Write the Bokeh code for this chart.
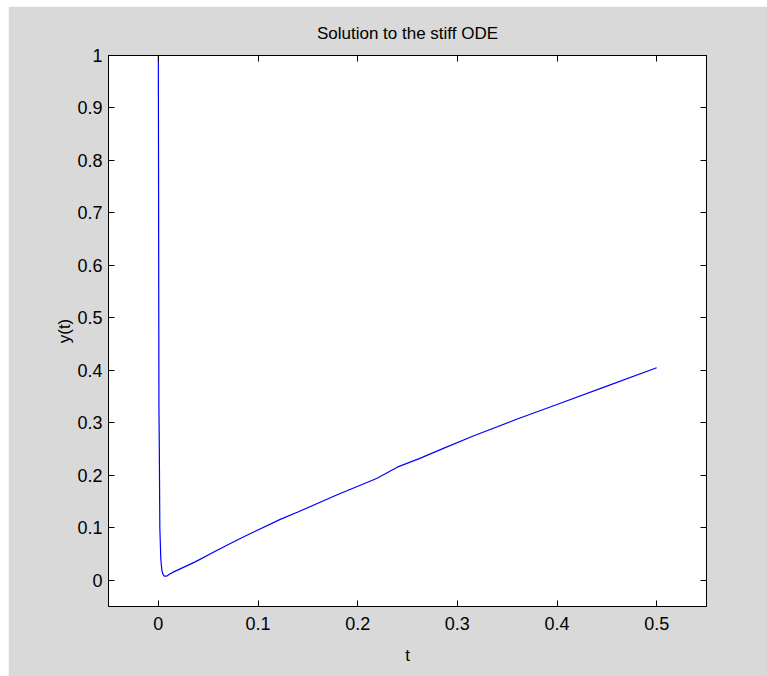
from bokeh.plotting import figure
from bokeh.models import LinearAxis, FixedTicker, Range1d
from bokeh.embed import file_html
from bokeh.resources import INLINE

# Data (solution of a stiff ODE)
t_vals = [0, 0.0002, 0.0004, 0.0006, 0.001, 0.0015, 0.002, 0.0025, 0.003, 0.0035,
          0.0045, 0.006, 0.0075, 0.009, 0.0115, 0.0154, 0.037, 0.06, 0.0822, 0.1223,
          0.14, 0.1789, 0.219, 0.2397, 0.263, 0.2866, 0.3166, 0.3601, 0.40, 0.45, 0.50]
y_vals = [1.0, 0.80, 0.55, 0.33, 0.25, 0.10, 0.07, 0.04, 0.03, 0.02,
          0.012, 0.008, 0.008, 0.0085, 0.012, 0.016, 0.035, 0.058, 0.0797, 0.116,
          0.13, 0.1625, 0.194, 0.2155, 0.2327, 0.2518, 0.2753, 0.3072, 0.335, 0.37, 0.405]

x_ticks = [0, 0.1, 0.2, 0.3, 0.4, 0.5]
x_tick_labels = ["0", "0.1", "0.2", "0.3", "0.4", "0.5"]
y_ticks = [0, 0.1, 0.2, 0.3, 0.4, 0.5, 0.6, 0.7, 0.8, 0.9, 1.0]
y_tick_labels = ["0", "0.1", "0.2", "0.3", "0.4", "0.5", "0.6", "0.7", "0.8", "0.9", "1"]

title_text = "Solution to the stiff ODE"
x_label = "t"
y_label = "y(t)"

FONT = "Liberation Sans"
GRAY = "#d9d9d9"

p = figure(
    frame_width=598, frame_height=551,
    min_border_left=100, min_border_right=61, min_border_top=49, min_border_bottom=70,
    x_range=Range1d(-0.05, 0.55), y_range=Range1d(-0.05, 1.0),
    output_backend="svg", toolbar_location=None,
    background_fill_color="white", border_fill_color=GRAY,
    outline_line_color="black", outline_line_width=1,
    margin=(6, 0, 0, 8),
)

p.title.text = title_text
p.title.align = "center"
p.title.text_font = FONT
p.title.text_font_size = "17px"
p.title.text_font_style = "normal"
p.title.text_color = "black"
p.title.standoff = 26

p.grid.visible = False

def style_axis(ax, ticks, labels, show_labels=True):
    ax.ticker = FixedTicker(ticks=ticks)
    ax.major_tick_in = 6
    ax.major_tick_out = 0
    ax.minor_tick_in = 0
    ax.minor_tick_out = 0
    ax.axis_line_color = "black"
    ax.major_tick_line_color = "black"
    ax.major_label_text_font = FONT
    if show_labels:
        ax.major_label_overrides = {tk: lb for tk, lb in zip(ticks, labels)}
        ax.major_label_text_font_size = "18px"
        ax.major_label_text_color = "black"
    else:
        ax.major_label_text_color = None
        ax.major_label_text_alpha = 0
        ax.major_label_standoff = 0

xa = p.xaxis[0]
ya = p.yaxis[0]
style_axis(xa, x_ticks, x_tick_labels)
style_axis(ya, y_ticks, y_tick_labels)
xa.major_label_standoff = 10
ya.major_label_standoff = 6

xa.axis_label = x_label
ya.axis_label = y_label
for ax in (xa, ya):
    ax.axis_label_text_font = FONT
    ax.axis_label_text_font_size = "17px"
    ax.axis_label_text_font_style = "normal"
    ax.axis_label_text_color = "black"
xa.axis_label_standoff = 13
ya.axis_label_standoff = 0

top_ax = LinearAxis()
right_ax = LinearAxis()
style_axis(top_ax, x_ticks, x_tick_labels, show_labels=False)
style_axis(right_ax, y_ticks, y_tick_labels, show_labels=False)
p.add_layout(top_ax, "above")
p.add_layout(right_ax, "right")

p.line(t_vals, y_vals, line_color="#0000ff", line_width=1.2)

open("out.html", "w").write(file_html(p, INLINE))
